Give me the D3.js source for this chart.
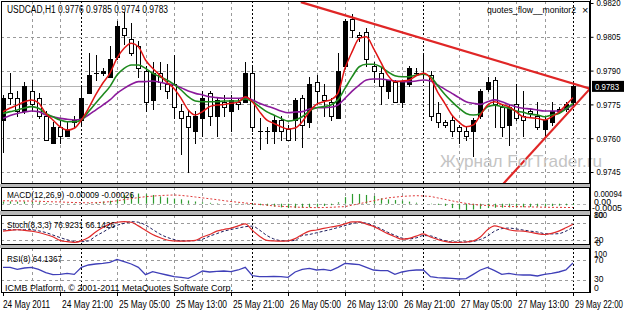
<!DOCTYPE html>
<html><head><meta charset="utf-8">
<script src="https://cdn.jsdelivr.net/npm/d3@7"></script>
<style>html,body{margin:0;padding:0;background:#fff;overflow:hidden}svg{display:block}</style>
</head><body>
<svg id="c" width="624" height="310"></svg>
<script>
// ---------- DATA ----------
const opens = [.9768,.9780,.9778,.9772,.9781,.9778,.9770,.9758,.9765,.9761,.9767,.9768,.9780,.9789,.9789,.9787,.9796,.9809,.9804,.9801,.9790,.9777,.9789,.9784,.9784,.9772,.9770,.9763,.9769,.9780,.9770,.9776,.9772,.9776,.9776,.9789,.9763,.9763,.9763,.9768,.9764,.9768,.9778,.9767,.9785,.9779,.9776,.9769,.9792,.9813,.9806,.9807,.9792,.9789,.9781,.9785,.9776,.9784,.9789,.9789,.9788,.9771,.9767,.9768,.9765,.9763,.9763,.9770,.9782,.9786,.9774,.9766,.9775,.9770,.9772,.9770,.9764,.9767,.9772,.9773,.9776];
const highs = [.9779,.9789,.9781,.9785,.9786,.9780,.9772,.9767,.9768,.9767,.9770,.9783,.9798,.9797,.9791,.9801,.9812,.9816,.9811,.9803,.9792,.9794,.9794,.9793,.9797,.9775,.9772,.9772,.9781,.9781,.9778,.9779,.9779,.9778,.9794,.9792,.9769,.9765,.9770,.9770,.9766,.9778,.9779,.9787,.9788,.9784,.9778,.9798,.9813,.9815,.9807,.9809,.9794,.9791,.9786,.9786,.9785,.9792,.9791,.9797,.9790,.9776,.9768,.9770,.9766,.9765,.9769,.9782,.9787,.9787,.9775,.9775,.9784,.9781,.9773,.9776,.9770,.9776,.9774,.9776,.9785];
const lows = [.9754,.9775,.9770,.9771,.9772,.9769,.9759,.9758,.9758,.9761,.9765,.9766,.9780,.9786,.9788,.9787,.9795,.9802,.9797,.9787,.9772,.9773,.9782,.9778,.9769,.9753,.9745,.9758,.9761,.9766,.9761,.9770,.9763,.9773,.9776,.9763,.9755,.9758,.9758,.9759,.9759,.9759,.9756,.9765,.9775,.9770,.9768,.9769,.9791,.9805,.9803,.9792,.9785,.9775,.9778,.9776,.9774,.9783,.9788,.9787,.9768,.9765,.9765,.9761,.9758,.9759,.9752,.9769,.9781,.9765,.9761,.9757,.9768,.9761,.9770,.9764,.9761,.9766,.9771,.9772,.9774];
const closes = [.9778,.9778,.9772,.9783,.9775,.9770,.9759,.9765,.9761,.9764,.9768,.9778,.9788,.9789,.9790,.9795,.9810,.9806,.9798,.9791,.9776,.9789,.9785,.9781,.9774,.9769,.9765,.9770,.9778,.9770,.9777,.9774,.9777,.9775,.9789,.9765,.9763,.9763,.9768,.9763,.9759,.9777,.9766,.9784,.9781,.9777,.9770,.9790,.9812,.9808,.9805,.9795,.9790,.9783,.9786,.9776,.9785,.9791,.9789,.9789,.9770,.9767,.9766,.9763,.9763,.9761,.9768,.9781,.9785,.9775,.9765,.9774,.9769,.9768,.9771,.9765,.9768,.9772,.9773,.9775,.9783];

const maFast = [.97718,.97734,.97747,.97762,.97770,.97756,.97710,.97681,.97651,.97636,.97644,.97681,.97733,.97792,.97844,.97888,.97955,.97999,.98021,.98006,.97947,.97910,.97880,.97848,.97821,.97777,.97725,.97703,.97718,.97740,.97747,.97750,.97755,.97759,.97784,.97762,.97718,.97681,.97666,.97651,.97641,.97645,.97673,.97718,.97750,.97762,.97770,.97799,.97910,.97984,.98043,.98050,.97999,.97939,.97880,.97851,.97854,.97858,.97877,.97888,.97866,.97805,.97755,.97703,.97671,.97651,.97659,.97703,.97747,.97762,.97750,.97740,.97718,.97695,.97691,.97688,.97681,.97695,.97715,.97747,.97780];
const maMid = [.97710,.97718,.97725,.97734,.97740,.97733,.97710,.97695,.97681,.97673,.97673,.97681,.97718,.97755,.97792,.97829,.97880,.97910,.97925,.97925,.97910,.97888,.97873,.97858,.97839,.97814,.97784,.97765,.97762,.97762,.97762,.97765,.97765,.97765,.97774,.97762,.97740,.97718,.97703,.97688,.97676,.97681,.97695,.97721,.97735,.97740,.97747,.97770,.97821,.97873,.97917,.97928,.97928,.97917,.97895,.97877,.97873,.97873,.97880,.97884,.97873,.97834,.97795,.97762,.97733,.97710,.97703,.97710,.97740,.97747,.97740,.97733,.97721,.97715,.97706,.97703,.97695,.97703,.97710,.97730,.97755];
const maSlow = [.97688,.97701,.97710,.97716,.97721,.97718,.97703,.97695,.97688,.97684,.97681,.97684,.97703,.97725,.97747,.97770,.97799,.97821,.97839,.97851,.97851,.97854,.97848,.97842,.97836,.97824,.97809,.97799,.97792,.97784,.97780,.97777,.97777,.97777,.97780,.97770,.97755,.97743,.97733,.97721,.97713,.97716,.97718,.97730,.97735,.97735,.97737,.97747,.97777,.97809,.97836,.97858,.97863,.97863,.97858,.97854,.97851,.97851,.97854,.97858,.97854,.97836,.97818,.97799,.97780,.97762,.97755,.97750,.97762,.97770,.97762,.97750,.97740,.97733,.97730,.97725,.97721,.97721,.97721,.97730,.97747];

const macdMain = [.00015,.00016,.00014,.00015,.00013,.00010,.00006,.00002,-.00002,-.00004,-.00004,0,.00005,.00010,.00015,.00020,.00030,.00060,.00070,.00070,.00065,.00060,.00050,.00042,.00035,.00030,.00022,.00015,.00010,.00006,.00003,0,-.00002,-.00004,-.00003,-.00006,-.00010,-.00015,-.00020,-.00025,-.00030,-.00030,-.00028,-.00025,-.00020,-.00015,-.00010,.00010,.00045,.00067,.00067,.00060,.00053,.00037,.00030,.00025,.00021,.00014,.00007,.00002,-.00003,-.00008,-.00015,-.00030,-.00040,-.00045,-.00040,-.00035,-.00030,-.00028,-.00027,-.00026,-.00025,-.00024,-.00022,-.00020,-.00018,-.00016,-.00013,-.00011,-.00009];
const macdSignal = [.00020,.00020,.00019,.00019,.00018,.00017,.00015,.00013,.00012,.00010,.00008,.00007,.00006,.00007,.00010,.00014,.00020,.00028,.00035,.00042,.00048,.00052,.00056,.00058,.00060,.00057,.00052,.00046,.00040,.00034,.00028,.00021,.00015,.00010,.00005,0,-.00005,-.00010,-.00015,-.00018,-.00020,-.00023,-.00025,-.00026,-.00027,-.00026,-.00025,-.00022,-.00020,-.00010,0,.00010,.00020,.00030,.00040,.00045,.00050,.00053,.00055,.00053,.00050,.00040,.00030,.00020,.00010,.00002,-.00005,-.00010,-.00012,-.00015,-.00018,-.00019,-.00020,-.00021,-.00022,-.00023,-.00024,-.00025,-.00025,-.00026,-.00026];

const stochK = [52,55,57,55,52,47,40,32,19,14,11.5,17,29,49,65,78,84,86,84,71,55,40,29,20,17,16,17,19,31,40,52,58,63,71,78,55,34,19,17,16,17,25,40,52,56,62,67,71,78,85,85,77,69,56,43,32,23,26,34,42,31,22,15,11.5,11.5,13,17,31,57,71,65,57,53,52,48,43,40,44,52,64,76.9231];
const stochD = [57,57,57,57,57,53,47,38,29,21,15,14,17,34,48,63,73,80,86,84,74,58,42,30,22,17,17,18,23,34,43,52,58,63,68,70,56,37,24,18,17,19,36,40,46,52,58,65,72,79,84,80.5,72,61,48,37,27,24,28,36,35,26,18,13,13,13,15,22,34,52,61,63,60,56,52,49,43,42,43,52,66.1426];

const rsi = [55.3,55.3,51.3,54,55.3,51.3,44.7,40.7,41.3,43.3,41.3,55.3,60,62,63.3,65.3,71.3,66.7,62,55.3,40.7,46.7,43.3,40,36.7,35.3,33.3,40,48,46,47.3,48,46.7,50,55.3,38.7,36.7,36.7,37.3,36.7,35.3,46,51.3,53.3,50,51.3,48.7,55.3,63.3,62,60.7,55.3,50,48.7,48.7,41.3,46,48.7,50,50,36.7,34.7,34,33.3,32,32.7,41.3,50,55.3,48.7,41.3,43.3,40.7,40,40,38,41.3,43.3,46,50,64.1367];

const timeTickIdx = [0,8,16,24,32,40,48,56,64,72,80];
const timeTickLabels = ["24 May 2011","24 May 21:00","25 May 05:00","25 May 13:00","25 May 21:00","26 May 05:00","26 May 13:00","26 May 21:00","27 May 05:00","27 May 13:00","29 May 22:00"];
const daySeparators = [11,35,59,80];
const gridBars = [4,8,16,20,24,28,32,40,44,48,52,56,64,68,72,76];
const priceTicks = [0.9820,0.9805,0.9790,0.9775,0.9760,0.9745];
const bidPrice = 0.9783;
const macdTickLabels = [[0.00094,"0.00094"],[0,"0.00"],[-0.0005,"-0.0005"]];
const stochLevels = [80,20];
const rsiLevels = [70,30];
const trendUpper = [[41.8,0.98204],[82.4,0.9782]];
const trendLower = [[70.2,0.97397],[82.4,0.9782]];
const headerText = "USDCAD,H1  0.9776 0.9785 0.9774 0.9783";
const macdText = "MACD(12,26,9) -0.00009 -0.00026";
const stochText = "Stoch(8,3,3) 76.9231 66.1426";
const rsiText = "RSI(8) 64.1367";

// ---------- LAYOUT ----------
const svg = d3.select("#c");
const L = 1, R = 590;
const P = {main:[1,184], macd:[187,211], stoch:[215,245], rsi:[248,293]};
const FONT = "Liberation Sans, Arial, sans-serif";
const x = d3.scaleLinear().domain([0,80]).range([3,573]);
const yP = d3.scaleLinear().domain([0.9745,0.9820]).range([172,3]);
const yM = d3.scaleLinear().domain([-0.0005,0.00094]).range([211,190]);
const yS = d3.scaleLinear().domain([0,100]).range([245.6,217.8]);
const yR = d3.scaleLinear().domain([0,100]).range([295,245]);
const px = v => Math.round(v) + 0.5;

svg.append("rect").attr("width",624).attr("height",310).attr("fill","#fff");

const defs = svg.append("defs");
Object.entries(P).forEach(([k,[t,b]])=>{
  defs.append("clipPath").attr("id","clip-"+k).append("rect")
    .attr("x",L).attr("y",t).attr("width",R-L).attr("height",b-t);
});

[[184,187],[211,215],[245,248]].forEach(([a,b])=>{
  svg.append("rect").attr("x",0).attr("y",a).attr("width",R+0.5).attr("height",b-a).attr("fill","#b8b8b8");
});

const layers = {};
Object.entries(P).forEach(([k,[t,b]])=>{
  const g = svg.append("g").attr("clip-path",`url(#clip-${k})`);
  layers[k] = g;
  g.selectAll("line.vg").data(gridBars).join("line")
    .attr("x1",d=>px(x(d))).attr("x2",d=>px(x(d))).attr("y1",t).attr("y2",b)
    .attr("stroke","#9a9a9a").attr("stroke-dasharray","3,3").attr("shape-rendering","crispEdges");
  g.selectAll("line.sep").data(daySeparators).join("line")
    .attr("x1",d=>px(x(d))).attr("x2",d=>px(x(d))).attr("y1",t).attr("y2",b)
    .attr("stroke","#000").attr("stroke-dasharray","2,2").attr("shape-rendering","crispEdges");
});

// ---------- MAIN ----------
const gm = layers.main;
gm.selectAll("line.hg").data(priceTicks.slice(1)).join("line")
  .attr("x1",L).attr("x2",R).attr("y1",d=>px(yP(d))).attr("y2",d=>px(yP(d)))
  .attr("stroke","#9a9a9a").attr("stroke-dasharray","3,3").attr("shape-rendering","crispEdges");

svg.append("text").attr("x",440).attr("y",167).attr("fill","#c4c4c4")
  .attr("font-family",FONT).attr("font-size",17)
  .attr("textLength",162).attr("lengthAdjust","spacingAndGlyphs").text("Журнал ForTrader.ru");

gm.append("line").attr("x1",L).attr("x2",R).attr("y1",px(yP(bidPrice))).attr("y2",px(yP(bidPrice)))
  .attr("stroke","#b4b4b4").attr("shape-rendering","crispEdges");

const idx = d3.range(opens.length);
const cg = gm.append("g").attr("shape-rendering","crispEdges");
cg.selectAll("line.w").data(idx).join("line")
  .attr("x1",i=>px(x(i))).attr("x2",i=>px(x(i)))
  .attr("y1",i=>Math.round(yP(highs[i]))).attr("y2",i=>Math.round(yP(lows[i]))+1)
  .attr("stroke","#000");
cg.selectAll("rect.b").data(idx).join("rect")
  .attr("x",i=>Math.round(x(i))-2+0.5).attr("width",4)
  .attr("y",i=>Math.round(yP(Math.max(opens[i],closes[i])))+0.5)
  .attr("height",i=>Math.max(0.01,Math.round(yP(Math.min(opens[i],closes[i])))-Math.round(yP(Math.max(opens[i],closes[i])))))
  .attr("fill",i=>closes[i]>opens[i]?"#000":"#fff").attr("stroke","#000");

const lineP = d3.line().x((d,i)=>x(i)).y(d=>yP(d)).curve(d3.curveMonotoneX);
gm.append("path").attr("d",lineP(maSlow)).attr("fill","none").attr("stroke","#8b1a9b").attr("stroke-width",1.6);
gm.append("path").attr("d",lineP(maMid)).attr("fill","none").attr("stroke","#1e8a1e").attr("stroke-width",1.6);
gm.append("path").attr("d",lineP(maFast)).attr("fill","none").attr("stroke","#e01515").attr("stroke-width",1.5);

const lineT = d3.line().x(d=>x(d[0])).y(d=>yP(d[1]));
[trendUpper,trendLower].forEach(t=>{
  gm.append("path").attr("d",lineT(t)).attr("fill","none").attr("stroke","#e02626").attr("stroke-width",2.2);
});

// ---------- MACD ----------
const gd = layers.macd;
gd.append("line").attr("x1",L).attr("x2",R).attr("y1",px(yM(0))).attr("y2",px(yM(0)))
  .attr("stroke","#b0b0b0").attr("stroke-dasharray","3,3").attr("shape-rendering","crispEdges");
gd.selectAll("line.h").data(idx).join("line")
  .attr("x1",i=>px(x(i))).attr("x2",i=>px(x(i)))
  .attr("y1",yM(0)).attr("y2",i=>yM(macdMain[i]))
  .attr("stroke","#2f9a2f").attr("stroke-width",1.2);
gd.append("path").attr("d",d3.line().x((d,i)=>x(i)).y(d=>yM(d))(macdSignal))
  .attr("fill","none").attr("stroke","#e03a3a").attr("stroke-width",1).attr("stroke-dasharray","2,2");

// ---------- STOCH ----------
const gs = layers.stoch;
gs.selectAll("line.lv").data(stochLevels).join("line")
  .attr("x1",L).attr("x2",R).attr("y1",d=>px(yS(d))).attr("y2",d=>px(yS(d)))
  .attr("stroke","#9a9a9a").attr("stroke-dasharray","3,3").attr("shape-rendering","crispEdges");
const lineS = d3.line().x((d,i)=>x(i)).y(d=>yS(d)).curve(d3.curveMonotoneX);
gs.append("path").attr("d",lineS(stochD)).attr("fill","none").attr("stroke","#1c1c5c").attr("stroke-width",1).attr("stroke-dasharray","3,2");
gs.append("path").attr("d",lineS(stochK)).attr("fill","none").attr("stroke","#e02a2a").attr("stroke-width",1.2);

// ---------- RSI ----------
const gr = layers.rsi;
gr.selectAll("line.lv").data(rsiLevels).join("line")
  .attr("x1",L).attr("x2",R).attr("y1",d=>px(yR(d))).attr("y2",d=>px(yR(d)))
  .attr("stroke","#9a9a9a").attr("stroke-dasharray","3,3").attr("shape-rendering","crispEdges");
gr.append("path").attr("d",d3.line().x((d,i)=>x(i)).y(d=>yR(d))(rsi))
  .attr("fill","none").attr("stroke","#3f3fb8").attr("stroke-width",1.3);

// ---------- FRAMES ----------
Object.values(P).forEach(([t,b])=>{
  svg.append("rect").attr("x",L+0.5).attr("y",t+0.5).attr("width",R-L-1).attr("height",b-t-1)
    .attr("fill","none").attr("stroke","#000").attr("shape-rendering","crispEdges");
});
svg.append("line").attr("x1",R+0.5).attr("x2",R+0.5).attr("y1",0).attr("y2",293).attr("stroke","#000").attr("shape-rendering","crispEdges");

// ---------- TEXTS ----------
function txt(s, xx, yy, len, opt={}){
  const t = svg.append("text").attr("x",xx).attr("y",yy)
    .attr("font-family",FONT).attr("font-size",opt.size||9.5).attr("fill",opt.fill||"#000").text(s);
  if(len) t.attr("textLength",len).attr("lengthAdjust","spacingAndGlyphs");
  return t;
}
txt(headerText,7,12.5,161,{size:10});
txt("quotes_flow__monitor2",487,13,89,{size:9.5});
txt("×",582,13.5,null,{size:11});
txt(macdText,7,198,127,{size:9.5});
txt(stochText,7,228,108,{size:9.5});
txt(rsiText,7,262,55,{size:9.5});
txt("ICMB Platform, © 2001-2011 MetaQuotes Software Corp.",5,291,228,{size:9.5});

const ax = svg.append("g").attr("transform",`translate(${R+0.5},0)`)
  .call(d3.axisRight(yP).tickValues(priceTicks).tickFormat(d3.format(".4f")).tickSize(3).tickPadding(3));
ax.select(".domain").remove();
ax.selectAll("line").attr("stroke","#000");
ax.selectAll("text").attr("font-family",FONT).attr("font-size",9).attr("fill","#000")
  .attr("textLength",24).attr("lengthAdjust","spacingAndGlyphs");

const yb = yP(bidPrice);
svg.append("rect").attr("x",592).attr("y",yb-5.5).attr("width",32).attr("height",11).attr("fill","#000");
txt(d3.format(".4f")(bidPrice),595,yb+3.5,24,{size:9,fill:"#fff"});

txt(macdTickLabels[0][1],594,197,28,{size:9});
txt(macdTickLabels[1][1],594,205,17,{size:9});
txt(macdTickLabels[2][1],592,210.5,30,{size:9});
txt("100",594,218,13,{size:9});
txt("80",594,218,9.5,{size:9});
txt("20",594,243,9.5,{size:9});
txt("0",596,245.5,4.8,{size:9});
txt("100",594,257,13,{size:9});
txt("70",594,262.5,9.5,{size:9});
txt("30",594,282,9.5,{size:9});
txt("0",594,290.5,4.8,{size:9});

svg.selectAll("line.tt").data(timeTickIdx).join("line")
  .attr("x1",d=>px(x(d))).attr("x2",d=>px(x(d))).attr("y1",293).attr("y2",296)
  .attr("stroke","#000").attr("shape-rendering","crispEdges");
timeTickIdx.forEach((d,i)=>{
  const s = timeTickLabels[i];
  const len = s.length===11 ? 47 : (i===timeTickIdx.length-1 ? 48 : 51);
  txt(s, i===0?3:x(d)+2, 307.5, len, {size:10});
});
</script>
</body></html>
